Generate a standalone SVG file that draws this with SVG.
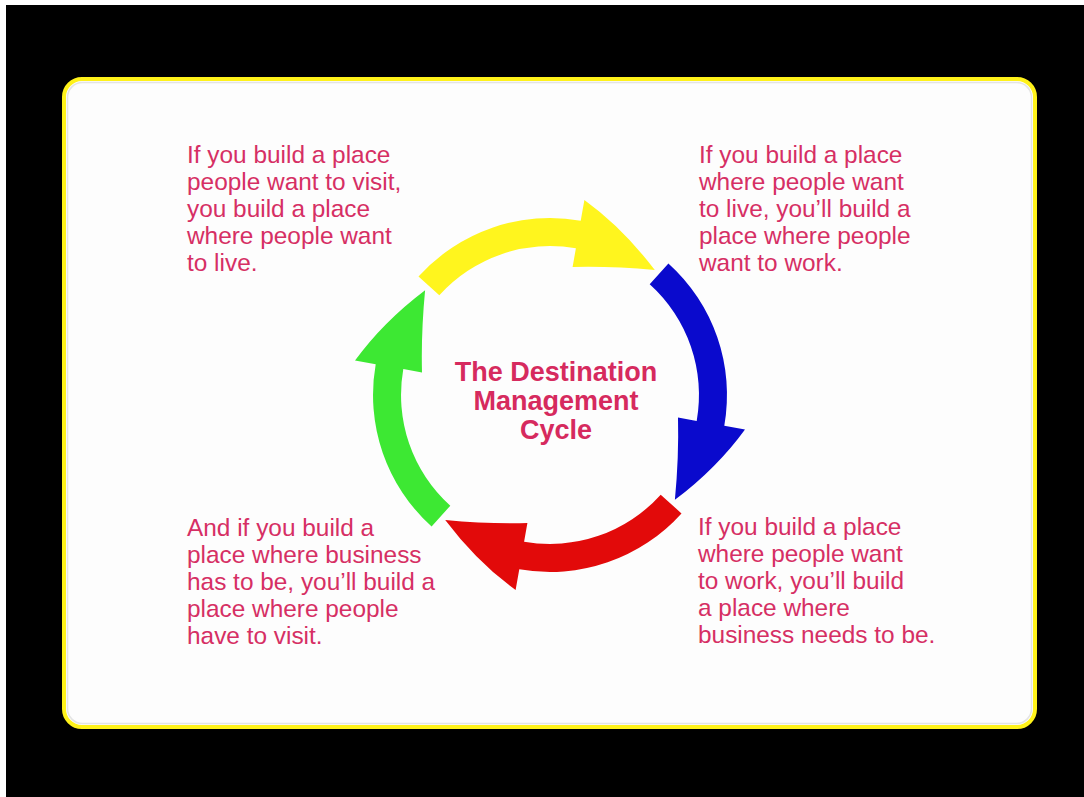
<svg xmlns="http://www.w3.org/2000/svg" width="1084" height="797" viewBox="0 0 1084 797">
<style>
.t{font-family:"Liberation Sans",Arial,sans-serif;font-size:24.4px;fill:#D62F64}
.title{font-family:"Liberation Sans",Arial,sans-serif;font-size:27px;font-weight:bold;fill:#D62A5E;text-anchor:middle}
</style>
<defs>
<path id="arc" d="M 418.5 276.6 A 177 177 0 0 1 580.7 220.7 L 584.4 200.0 Q 623 228 654.8 270.1 Q 612 266 572.6 267.0 L 575.9 248.3 A 149 149 0 0 0 439.3 295.3 Z"/>
</defs>
<rect x="0" y="0" width="1084" height="797" fill="#ffffff"/>
<rect x="6" y="5" width="1078" height="792" fill="#000000"/>
<g id="card">
<rect x="64" y="79" width="971" height="648" rx="18" fill="#fdfdfd" stroke="#FFF21A" stroke-width="4"/>
<rect x="67.5" y="82.5" width="964" height="641" rx="15" fill="none" stroke="#d8d8d8" stroke-width="1.5" opacity="0.7"/>
</g>
<g id="connectors">
<use href="#arc" fill="#FFF51E"/>
<use href="#arc" fill="#0A0ACD" transform="rotate(90 550 395)"/>
<use href="#arc" fill="#E20A0A" transform="rotate(180 550 395)"/>
<use href="#arc" fill="#3DE833" transform="rotate(270 550 395)"/>
</g>
<g id="title">
<text class="title" x="556" y="381">The Destination</text>
<text class="title" x="556" y="410">Management</text>
<text class="title" x="556" y="439">Cycle</text>
</g>
<g id="node-visit">
<text class="t" x="187" y="163">If you build a place</text>
<text class="t" x="187" y="190">people want to visit,</text>
<text class="t" x="187" y="217">you build a place</text>
<text class="t" x="187" y="244">where people want</text>
<text class="t" x="187" y="271">to live.</text>
</g>
<g id="node-live">
<text class="t" x="699" y="163">If you build a place</text>
<text class="t" x="699" y="190">where people want</text>
<text class="t" x="699" y="217">to live, you’ll build a</text>
<text class="t" x="699" y="244">place where people</text>
<text class="t" x="699" y="271">want to work.</text>
</g>
<g id="node-work">
<text class="t" x="698" y="535">If you build a place</text>
<text class="t" x="698" y="562">where people want</text>
<text class="t" x="698" y="589">to work, you’ll build</text>
<text class="t" x="698" y="616">a place where</text>
<text class="t" x="698" y="643">business needs to be.</text>
</g>
<g id="node-business">
<text class="t" x="187" y="536">And if you build a</text>
<text class="t" x="187" y="563">place where business</text>
<text class="t" x="187" y="590">has to be, you’ll build a</text>
<text class="t" x="187" y="617">place where people</text>
<text class="t" x="187" y="644">have to visit.</text>
</g>
</svg>
